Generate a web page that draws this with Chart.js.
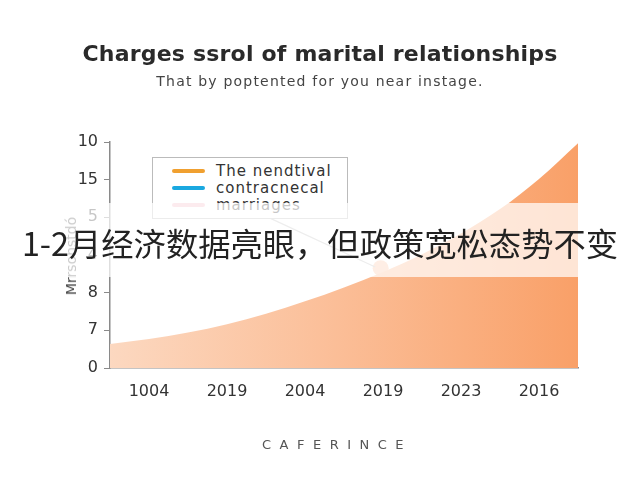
<!DOCTYPE html>
<html>
<head>
<meta charset="utf-8">
<script src="https://cdn.jsdelivr.net/npm/chart.js@4.4.1/dist/chart.umd.min.js"></script>
<style>
  html, body { margin:0; padding:0; background:#fff; }
  #wrap { position:relative; width:640px; height:480px; overflow:hidden; font-family:"DejaVu Sans", sans-serif; }
  #c { position:absolute; left:0; top:0; }
  .abs { position:absolute; white-space:nowrap; }
  #title { left:0; width:640px; top:41px; text-align:center; font-size:22px; letter-spacing:0.2px; font-weight:700; color:#2a2a2a; }
  #subtitle { left:0; width:640px; top:73px; text-align:center; font-size:14px; letter-spacing:1.2px; color:#444; }
  #footer { left:0; width:674px; top:437px; text-align:center; font-size:13px; letter-spacing:8.5px; color:#555; }
  #legend { left:152px; top:157px; width:196px; height:62px; border:1px solid #bbb; background:#fff; box-sizing:border-box; }
  .li { position:absolute; left:19px; height:17px; font-size:15px; letter-spacing:1px; color:#333; line-height:17px; }
  .sw { display:inline-block; width:33px; height:4px; border-radius:2px; vertical-align:middle; margin-right:11px; position:relative; top:-1px; }
  #band { left:0; top:203px; width:640px; height:74px; background:rgba(255,255,255,0.72); }
  #cn { left:0; width:640px; top:221px; text-align:center; font-size:32.3px; color:#222; font-family:"Noto Sans CJK SC", sans-serif; line-height:42px; }
  #ytitle { left:71px; top:256px; transform:translate(-50%,-50%) rotate(-90deg); font-size:14px; color:#444; }
</style>
</head>
<body>
<div id="wrap">
  <canvas id="c" width="640" height="480"></canvas>
  <div id="title" class="abs">Charges ssrol of marital relationships</div>
  <div id="subtitle" class="abs">That by poptented for you near instage.</div>
  <div id="ytitle" class="abs">Mrrsonstdó</div>
  <div id="legend" class="abs"></div>
  <div id="band" class="abs"></div>
  <div id="cn" class="abs">1-2月经济数据亮眼，但政策宽松态势不变</div>
  <div id="footer" class="abs">CAFERINCE</div>
</div>
<script>
// ---- data ----
const xLabels = ['1004', '2019', '2004', '2019', '2023', '2016'];
const yTickLabels = ['0', '7', '8', '4', '5', '15', '10'];
const curveX = [0, 0.5, 1, 1.5, 2, 2.5, 3, 3.5, 4, 4.5, 5, 5.5, 6];
const curveY = [0.64, 0.77, 0.94, 1.16, 1.44, 1.77, 2.14, 2.55, 3.02, 3.57, 4.22, 5.02, 5.97];
const markerX = [3.47];
const markerY = [2.65];
const leaderX = [2.05, 3.40];
const leaderY = [3.98, 2.68];
const legendNames = ['The nendtival', 'contracnecal', 'marriages'];
const legendColors = ['#f0a030', '#1aa8e0', '#f5b8c2'];

// legend (HTML)
const leg = document.getElementById('legend');
legendNames.forEach((n, i) => {
  const d = document.createElement('div');
  d.className = 'li';
  d.style.top = (5 + i * 17) + 'px';
  d.innerHTML = '<span class="sw" style="background:' + legendColors[i] + '"></span>' + n;
  leg.appendChild(d);
});

const zip = (xs, ys) => xs.map((x, i) => ({ x: x, y: ys[i] }));
const FONT = '"DejaVu Sans", sans-serif';

new Chart(document.getElementById('c'), {
  type: 'line',
  data: {
    datasets: [
      {
        data: zip(curveX, curveY),
        borderWidth: 0,
        borderColor: 'rgba(0,0,0,0)',
        pointRadius: 0,
        cubicInterpolationMode: 'monotone',
        fill: 'origin',
        backgroundColor: (ctx) => {
          const ca = ctx.chart.chartArea;
          if (!ca) return '#fbc09a';
          const g = ctx.chart.ctx.createLinearGradient(ca.left, 0, ca.right, 0);
          g.addColorStop(0, '#fcd8c0');
          g.addColorStop(0.5, '#fbbd96');
          g.addColorStop(1, '#f9a068');
          return g;
        }
      },
      {
        data: zip(leaderX, leaderY),
        borderColor: '#bdbdbd',
        borderWidth: 1.2,
        pointRadius: 0,
        fill: false
      },
      {
        data: zip(markerX, markerY),
        showLine: false,
        pointRadius: 8,
        pointBackgroundColor: '#fbc3a0',
        pointBorderColor: '#fbc3a0',
        pointBorderWidth: 0,
        fill: false
      }
    ]
  },
  options: {
    responsive: false,
    animation: false,
    layout: { padding: { left: 0, right: 62, top: 142, bottom: 72 } },
    plugins: { legend: { display: false }, tooltip: { enabled: false }, title: { display: false } },
    scales: {
      x: {
        type: 'linear', min: 0, max: 6,
        afterBuildTicks: (axis) => { axis.ticks = xLabels.map((_, i) => ({ value: i + 0.5 })); },
        afterFit: (axis) => { axis.height = 40; },
        ticks: {
          autoSkip: false, maxRotation: 0, padding: 6,
          color: '#333', font: { family: FONT, size: 16 },
          callback: (v) => xLabels[Math.round(v - 0.5)]
        },
        grid: { display: false },
        border: { display: true, color: '#8a8a8a', width: 1.5 }
      },
      y: {
        type: 'linear', min: 0, max: 6,
        afterBuildTicks: (axis) => { axis.ticks = yTickLabels.map((_, i) => ({ value: i })); },
        afterFit: (axis) => { axis.width = 110; },
        ticks: {
          autoSkip: false, padding: 6,
          color: '#333', font: { family: FONT, size: 16 },
          callback: (v) => yTickLabels[Math.round(v)]
        },
        grid: { drawOnChartArea: false, drawTicks: true, tickLength: 6, color: '#8a8a8a' },
        border: { display: true, color: '#8a8a8a', width: 1.5 }
      }
    }
  }
});
</script>
</body>
</html>
